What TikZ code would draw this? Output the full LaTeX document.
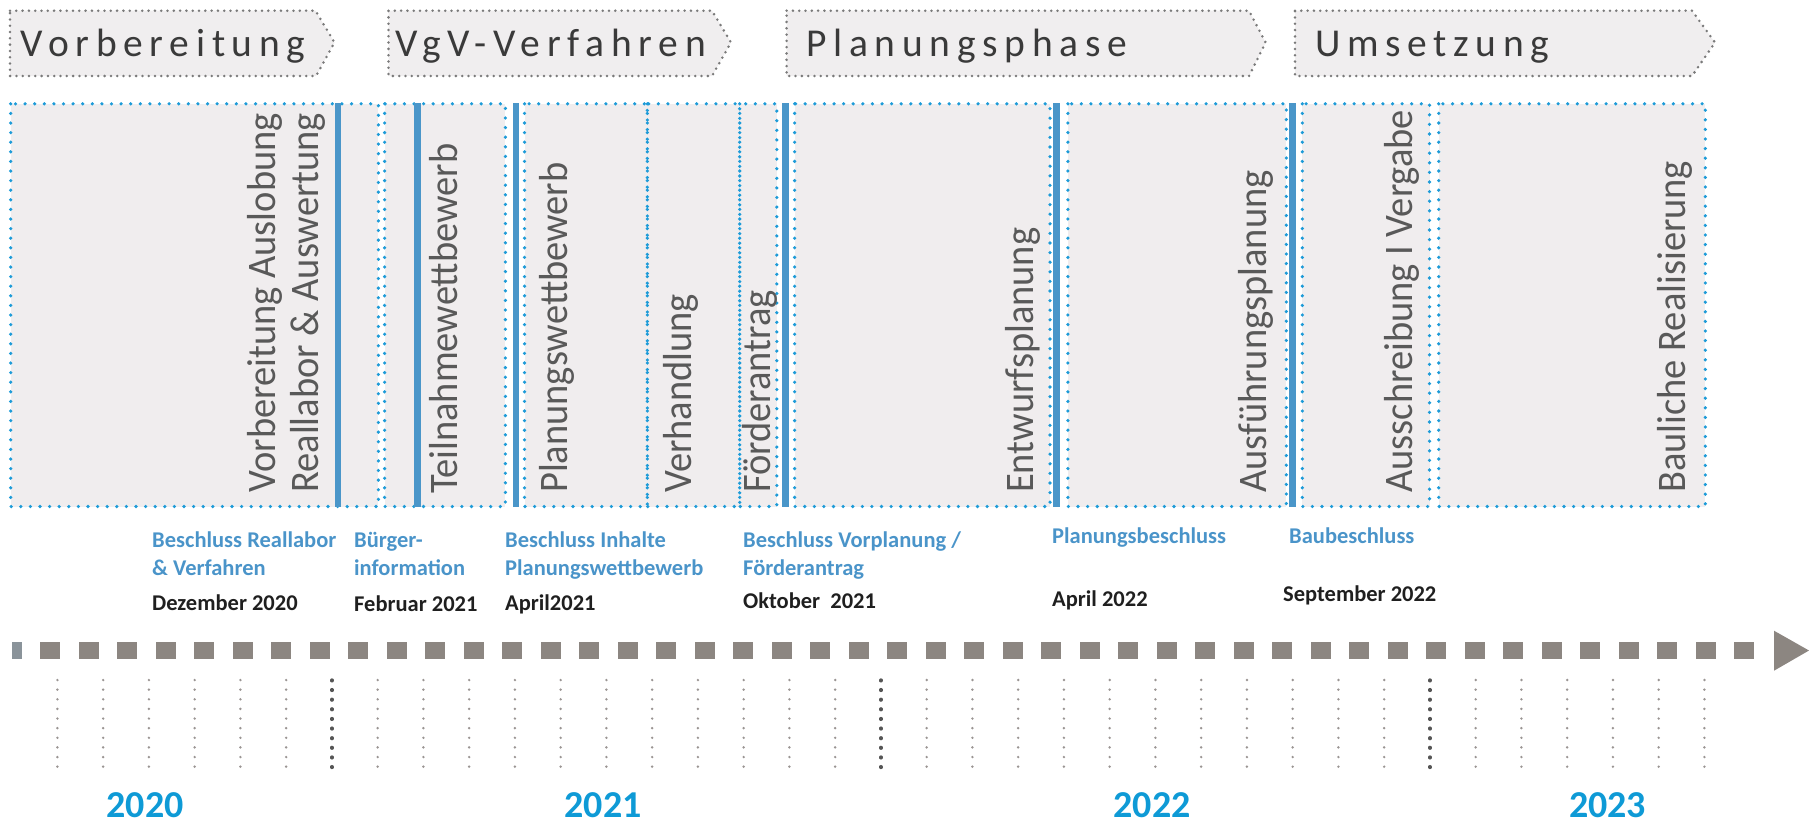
\documentclass[tikz,border=0pt]{standalone}
\usepackage{fontspec}
\setmainfont{Carlito}
\newfontfamily\phasefont[LetterSpace=17]{Carlito}
\newfontfamily\boxfont[FakeStretch=0.95]{Carlito}
\definecolor{phasefill}{HTML}{F0EEEF}
\definecolor{phaseborder}{HTML}{7A7A7A}
\definecolor{phasetextcol}{HTML}{3A3A3A}
\definecolor{stagefill}{HTML}{F0EDEE}
\definecolor{stageborder}{HTML}{1D9BD8}
\definecolor{stagetextcol}{HTML}{595959}
\definecolor{mileblue}{HTML}{4A96C9}
\definecolor{labelblue}{HTML}{4A94C9}
\definecolor{datecol}{HTML}{1F1F1F}
\definecolor{tlgray}{HTML}{8C8681}
\definecolor{tlgraycut}{HTML}{8A939A}
\definecolor{tickdarkcol}{HTML}{555555}
\definecolor{ticklightcol}{HTML}{9A9593}
\definecolor{yearblue}{HTML}{0E9AD6}
\begin{document}
\begin{tikzpicture}[x=1pt,y=-1pt,
  phasebox/.style={draw=phaseborder, fill=phasefill, line width=2.8pt, dash pattern=on 0pt off 6.3pt, line cap=round},
  stagefillst/.style={fill=stagefill},
  stageline/.style={draw=stageborder, line width=3.6pt, dash pattern=on 0pt off 9.6pt, line cap=round},
  milestone/.style={draw=mileblue, line width=6.5pt},
  phasetext/.style={anchor=base west, inner sep=0pt, text=phasetextcol, font=\phasefont\fontsize{39.5}{47}\selectfont},
  stagetext/.style={rotate=90, anchor=base west, inner sep=0pt, text=stagetextcol, font=\boxfont\fontsize{40.5}{48}\selectfont},
  milelabel/.style={anchor=base west, inner sep=0pt, text=labelblue, font=\bfseries\fontsize{22.5}{27}\selectfont},
  datelabel/.style={anchor=base west, inner sep=0pt, text=datecol, font=\bfseries\fontsize{22.5}{27}\selectfont},
  yearlabel/.style={anchor=base, inner sep=0pt, text=yearblue, font=\bfseries\fontsize{38}{44}\selectfont},
  ticklight/.style={draw=ticklightcol, line width=2.7pt, dash pattern=on 0pt off 9.63pt, line cap=round},
  tickdark/.style={draw=tickdarkcol, line width=3.4pt, dash pattern=on 0.8pt off 8.83pt, line cap=round},
]
\useasboundingbox (0,0) rectangle (1809,825);

% phase arrows
\draw[phasebox] (10,10.7) -- (315.5,10.7) -- (334.5,42.5) -- (316,76) -- (10,76) -- cycle;
\draw[phasebox] (388.5,10.7) -- (712,10.7) -- (731,42.5) -- (712,76) -- (388.5,76) -- cycle;
\draw[phasebox] (786.6,10.7) -- (1249,10.7) -- (1265.6,42.5) -- (1249,76) -- (786.6,76) -- cycle;
\draw[phasebox] (1295,10.7) -- (1692,10.7) -- (1715,42.5) -- (1692,76) -- (1295,76) -- cycle;
\node[phasetext] (p1) at (20.4,56.5) {Vorbereitung};
\node[phasetext] (p2) at (395,56.5) {VgV-Verfahren};
\node[phasetext] (p3) at (806,56.5) {Planungsphase};
\node[phasetext] (p4) at (1315,56.5) {Umsetzung};

% stage boxes: fill then dotted borders
\foreach \a/\b in {10.7/378.4, 384.6/505.4, 524.5/647.3, 647.3/739.7, 739.7/776.8, 794.6/1050, 1067.9/1286.3, 1302.3/1429.5, 1438.7/1705.3}
  \fill[stagefillst] (\a,103.8) rectangle (\b,506.5);
\foreach \a/\b in {10.7/378.4, 384.6/505.4, 524.5/647.3, 647.3/739.7, 739.7/776.8, 794.6/1050, 1067.9/1286.3, 1302.3/1429.5, 1438.7/1705.3}
  \draw[stageline] (\a,103.8) rectangle (\b,506.5);

% milestone bars
\foreach \x in {338, 417.7, 516, 785.7, 1056.7, 1292.3}
  \draw[milestone] (\x,103.3) -- (\x,507);

% stage texts
\node[stagetext] (t1a) at (275,493) {Vorbereitung Auslobung};
\node[stagetext] (t1b) at (318,493) {Reallabor \& Auswertung};
\node[stagetext] (t2) at (457,494) {Teilnahmewettbewerb};
\node[stagetext] (t3) at (567,493) {Planungswettbewerb};
\node[stagetext] (t4) at (691,493) {Verhandlung};
\node[stagetext] (t5) at (770,493) {Förderantrag};
\node[stagetext] (t6) at (1033,493) {Entwurfsplanung};
\node[stagetext] (t7) at (1266,493) {Ausführungsplanung};
\node[stagetext] (t8) at (1412,493) {Ausschreibung I Vergabe};
\node[stagetext] (t9) at (1685,493) {Bauliche Realisierung};

% milestone labels
\node[milelabel] (m1a) at (152,547) {Beschluss Reallabor};
\node[milelabel] (m1b) at (152,575) {\& Verfahren};
\node[datelabel] (d1) at (152,610) {Dezember 2020};
\node[milelabel] (m2a) at (354,547) {Bürger-};
\node[milelabel] (m2b) at (354,575) {information};
\node[datelabel] (d2) at (354,611) {Februar 2021};
\node[milelabel] (m3a) at (505,547) {Beschluss Inhalte};
\node[milelabel] (m3b) at (505,575) {Planungswettbewerb};
\node[datelabel] (d3) at (505,610) {April2021};
\node[milelabel] (m4a) at (743,547) {Beschluss Vorplanung /};
\node[milelabel] (m4b) at (743,575) {Förderantrag};
\node[datelabel] (d4) at (743,608.5) {Oktober~~2021};
\node[milelabel] (m5a) at (1052,543) {Planungsbeschluss};
\node[datelabel] (d5) at (1052,606.5) {April 2022};
\node[milelabel] (m6a) at (1289,543) {Baubeschluss};
\node[datelabel] (d6) at (1283,601.5) {September 2022};

% timeline
\fill[tlgraycut] (11.7,641.7) rectangle (21.7,659.3);
\foreach \i in {0,...,44}
  \fill[tlgray] ({40.2+\i*38.5},641.7) rectangle ++(20,17.6);
\fill[tlgray] (1774,630.7) -- (1809,650.5) -- (1774,670.7) -- cycle;

% month ticks
\foreach \i in {0,...,36}{
  \pgfmathtruncatemacro{\m}{mod(\i,12)}
  \ifnum\m=6
    \draw[tickdark] ({57.4+\i*45.75},680) -- ++(0,87.5);
  \else
    \draw[ticklight] ({57.4+\i*45.75},680) -- ++(0,87.5);
  \fi
}

% years
\node[yearlabel] (y2020) at (145,817) {2020};
\node[yearlabel] (y2021) at (603,817) {2021};
\node[yearlabel] (y2022) at (1152,817) {2022};
\node[yearlabel] (y2023) at (1607.5,817) {2023};
\end{tikzpicture}
\end{document}
